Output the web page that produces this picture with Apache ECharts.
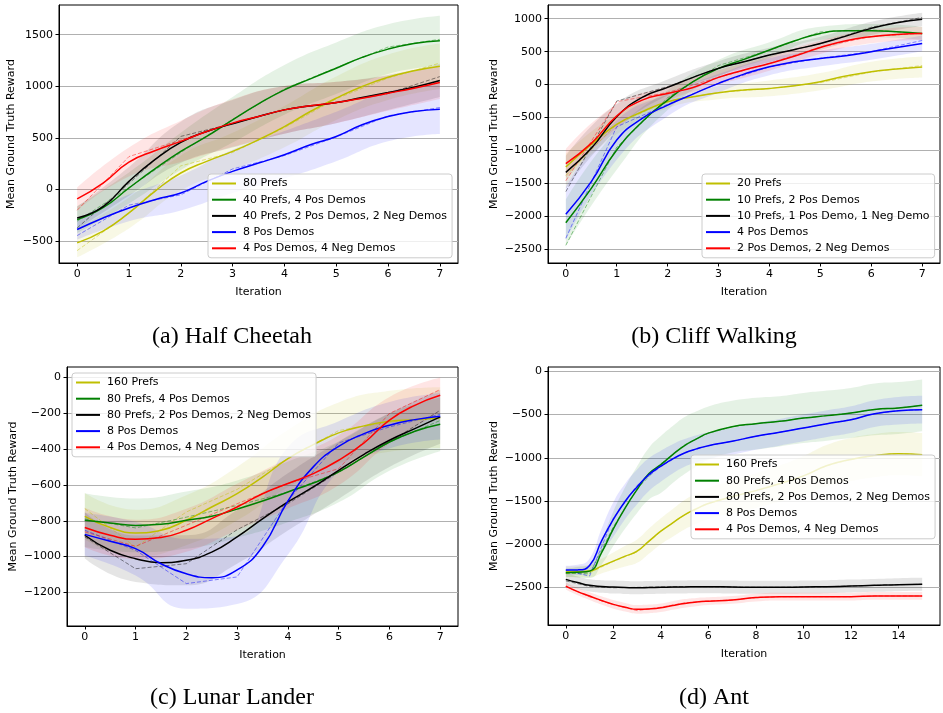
<!DOCTYPE html>
<html><head><meta charset="utf-8">
<script src="https://cdn.jsdelivr.net/npm/echarts/dist/echarts.min.js"></script>
<style>html,body{margin:0;padding:0;background:#fff}#c{width:943px;height:713px}</style>
</head><body><div id="c"></div>
<script>
// ---------------- DATA ----------------
const iterHalf7 = [0,0.5,1,1.5,2,2.5,3,3.5,4,4.5,5,5.5,6,6.5,7];
const iter7 = [0,1,2,3,4,5,6,7];
const iter15 = [0,1,2,3,4,5,6,7,8,9,10,11,12,13,14,15];
const antX = [0,0.5,1,1.5,2,2.5,3,3.5,4,4.5,5,5.5,6,7,8,9,10,11,12,13,14,15];

// rows: 0 prefs only (yellow), 1 prefs+pos (green), 2 prefs+pos+neg (black), 3 pos only (blue), 4 pos+neg (red)
// (a) Half Cheetah
const cheetahNames = ['80 Prefs','40 Prefs, 4 Pos Demos','40 Prefs, 2 Pos Demos, 2 Neg Demos','8 Pos Demos','4 Pos Demos, 4 Neg Demos'];
const cheetahSmooth = [
  [-515,-402,-225,-16,161,274,370,483,610,756,885,998,1088,1150,1194],
  [-290,-175,16,200,370,515,676,830,966,1072,1175,1280,1360,1415,1442],
  [-274,-165,80,290,457,563,637,708,772,811,843,892,940,991,1056],
  [-386,-274,-177,-97,-32,80,177,257,338,434,515,628,708,756,779],
  [-90,64,267,377,467,563,644,708,772,811,843,885,933,982,1037]
];
const cheetahRaw = [
  [-590,-230,230,360,600,880,1080,1225],
  [-305,20,360,680,975,1180,1380,1455],
  [-370,60,515,640,775,840,930,1094],
  [-445,-150,-50,200,330,510,715,795],
  [-200,320,480,640,775,840,935,1046]
];
const cheetahBand = [
  [140,150,170,180,200,210,220,220],
  [130,150,180,220,240,250,240,240],
  [110,140,200,230,230,200,170,160],
  [100,130,170,210,230,240,240,240],
  [110,140,200,230,230,200,170,160]
];
const cheetahYTicks = [-500,0,500,1000,1500];

// (b) Cliff Walking
const cliffNames = ['20 Prefs','10 Prefs, 2 Pos Demos','10 Prefs, 1 Pos Demo, 1 Neg Demo','4 Pos Demos','2 Pos Demos, 2 Neg Demos'];
const cliffSmooth = [
  [-1250,-910,-605,-413,-260,-185,-124,-83,-58,-17,44,130,196,236,266],
  [-2097,-1576,-994,-564,-235,44,246,383,524,666,777,818,818,803,777],
  [-1332,-968,-488,-195,-43,109,246,347,448,534,625,736,853,939,990],
  [-1967,-1474,-842,-513,-311,-144,19,159,271,347,397,438,498,564,625],
  [-1198,-893,-478,-235,-134,-43,109,220,321,433,564,666,727,762,777]
];
const cliffRaw = [
  [-1380,-600,-250,-120,-60,30,190,290],
  [-2440,-950,-200,290,520,800,830,770],
  [-1625,-250,-30,250,450,620,870,1020],
  [-2333,-640,-300,20,270,400,500,670],
  [-1460,-260,-120,110,320,570,730,780]
];
const cliffBand = [
  [200,150,100,100,120,130,150,160],
  [350,300,150,130,120,100,100,100],
  [250,200,120,110,110,100,100,100],
  [400,300,170,140,130,120,120,120],
  [220,180,110,110,110,100,100,100]
];
const cliffYTicks = [-2500,-2000,-1500,-1000,-500,0,500,1000];

// (c) Lunar Lander
const lunarNames = ['160 Prefs','80 Prefs, 4 Pos Demos','80 Prefs, 2 Pos Demos, 2 Neg Demos','8 Pos Demos','4 Pos Demos, 4 Neg Demos'];
const lunarSmooth = [
  [-775,-838,-868,-853,-797,-723,-649,-556,-453,-375,-309,-270,-244,-235,-224],
  [-797,-812,-826,-820,-797,-775,-735,-690,-639,-589,-527,-443,-360,-300,-261],
  [-881,-965,-1012,-1034,-1021,-975,-890,-790,-695,-611,-518,-429,-350,-285,-220],
  [-876,-915,-956,-1040,-1096,-1118,-1075,-945,-690,-499,-384,-313,-266,-235,-216],
  [-838,-881,-904,-894,-853,-788,-723,-649,-592,-537,-462,-365,-238,-155,-99]
];
const lunarRaw = [
  [-732,-947,-751,-625,-453,-296,-248,-229],
  [-790,-840,-780,-715,-640,-530,-360,-240],
  [-890,-1068,-1040,-850,-705,-527,-360,-183],
  [-853,-965,-1151,-1114,-686,-365,-276,-205],
  [-862,-943,-825,-705,-592,-509,-201,-67]
];
const lunarBand = [
  [130,130,140,150,160,170,170,170],
  [150,150,160,160,170,170,160,150],
  [130,130,140,150,160,160,150,150],
  [120,150,195,190,300,140,130,130],
  [110,110,120,130,140,140,130,100]
];
const lunarYTicks = [-1200,-1000,-800,-600,-400,-200,0];

// (d) Ant
const antNames = ['160 Prefs','80 Prefs, 4 Pos Demos','80 Prefs, 2 Pos Demos, 2 Neg Demos','8 Pos Demos','4 Pos Demos, 4 Neg Demos'];
const antSmooth = [
  [-2320,-2318,-2312,-2254,-2196,-2139,-2081,-1965,-1850,-1753,-1660,-1590,-1530,-1450,-1380,-1300,-1210,-1090,-1020,-975,-952,-965],
  [-2331,-2325,-2312,-2100,-1822,-1579,-1368,-1183,-1079,-963,-859,-782,-715,-640,-605,-578,-540,-512,-482,-440,-424,-393],
  [-2408,-2445,-2477,-2490,-2497,-2502,-2505,-2503,-2500,-2497,-2495,-2493,-2492,-2496,-2500,-2500,-2496,-2492,-2485,-2477,-2469,-2465],
  [-2300,-2298,-2246,-1965,-1714,-1503,-1337,-1194,-1098,-1013,-944,-897,-860,-809,-751,-705,-655,-605,-559,-489,-455,-443],
  [-2485,-2550,-2601,-2652,-2697,-2730,-2755,-2750,-2736,-2710,-2686,-2670,-2660,-2646,-2619,-2608,-2608,-2608,-2608,-2600,-2600,-2600]
];
const antRaw = [
  [-2340,-2330,-2200,-2090,-1850,-1660,-1530,-1450,-1380,-1300,-1210,-1090,-1020,-975,-950,-965],
  [-2335,-2345,-1800,-1360,-1070,-850,-715,-640,-605,-578,-540,-512,-482,-440,-424,-393],
  [-2425,-2490,-2505,-2500,-2495,-2490,-2492,-2496,-2500,-2500,-2496,-2492,-2485,-2477,-2469,-2465],
  [-2305,-2370,-1700,-1320,-1100,-940,-860,-809,-751,-705,-655,-605,-559,-489,-455,-443],
  [-2490,-2610,-2700,-2770,-2730,-2680,-2658,-2646,-2619,-2608,-2608,-2608,-2608,-2600,-2600,-2600]
];
const antBand = [
  [60,65,70,85,100,120,135,145,150,160,170,175,180,190,200,210,230,240,250,250,250,250],
  [50,60,80,140,200,240,270,300,330,330,330,320,310,300,300,290,290,290,290,300,300,300],
  [70,70,70,72,75,75,75,75,75,75,75,75,75,75,75,75,75,75,75,75,75,75],
  [50,60,80,140,200,205,200,190,180,170,160,158,155,155,155,155,155,155,155,155,160,160],
  [40,42,45,48,50,50,50,50,50,50,50,48,45,45,45,45,45,45,45,45,45,45]
];
const antYTicks = [-2500,-2000,-1500,-1000,-500,0];
const ticks7 = [0,1,2,3,4,5,6,7];
const ticks14 = [0,2,4,6,8,10,12,14];

const captions = ['(a) Half Cheetah','(b) Cliff Walking','(c) Lunar Lander','(d) Ant'];
const rowColors = ['#bfbf00','#008000','#000000','#0000ff','#ff0000'];

// ---------------- LAYOUT ----------------
const FONT = 'DejaVu Sans';
const panels = [
  {names: cheetahNames, sx: iterHalf7, rx: iter7, bx: iter7, smooth: cheetahSmooth, raw: cheetahRaw, band: cheetahBand,
   grid: {left: 59, top: 5, width: 399, height: 258}, xMin: -0.35, xMax: 7.35, xTicks: ticks7, xInt: 1,
   yMin: -710, yMax: 1787, yTicks: cheetahYTicks, yInt: 500, nameGap: 42, legend: {left: 208, top: 174}, cap: [232, 337]},
  {names: cliffNames, sx: iterHalf7, rx: iter7, bx: iter7, smooth: cliffSmooth, raw: cliffRaw, band: cliffBand,
   grid: {left: 548, top: 5, width: 392, height: 258}, xMin: -0.35, xMax: 7.35, xTicks: ticks7, xInt: 1,
   yMin: -2708, yMax: 1208, yTicks: cliffYTicks, yInt: 500, nameGap: 48, legend: {left: 702, top: 174}, cap: [714, 337]},
  {names: lunarNames, sx: iterHalf7, rx: iter7, bx: iter7, smooth: lunarSmooth, raw: lunarRaw, band: lunarBand,
   grid: {left: 67, top: 367, width: 391, height: 259}, xMin: -0.35, xMax: 7.35, xTicks: ticks7, xInt: 1,
   yMin: -1388, yMax: 59, yTicks: lunarYTicks, yInt: 200, nameGap: 48, legend: {left: 72, top: 373}, cap: [232, 698]},
  {names: antNames, sx: antX, rx: iter15, bx: antX, smooth: antSmooth, raw: antRaw, band: antBand,
   grid: {left: 548, top: 367, width: 392, height: 258}, xMin: -0.75, xMax: 15.75, xTicks: ticks14, xInt: 2,
   yMin: -2936, yMax: 51, yTicks: antYTicks, yInt: 500, nameGap: 48, legend: {left: 691, top: 455}, cap: [714, 698]}
];

const minus = v => String(v).replace('-', '\u2212');
const grids = [], xAxes = [], yAxes = [], series = [], legends = [], graphics = [];

panels.forEach((p, pi) => {
  grids.push(Object.assign({show: true, borderColor: '#000', borderWidth: 1, containLabel: false}, p.grid));
  xAxes.push({type: 'value', gridIndex: pi, min: p.xMin, max: p.xMax, minInterval: p.xInt, maxInterval: p.xInt,
    name: 'Iteration', nameLocation: 'middle', nameGap: 24,
    nameTextStyle: {fontFamily: FONT, fontSize: 11, color: '#000'},
    axisLine: {show: true, onZero: false, lineStyle: {color: '#000', width: 1}},
    axisTick: {show: true, length: 3.5, lineStyle: {color: '#000'}, customValues: p.xTicks},
    axisLabel: {fontFamily: FONT, fontSize: 11, color: '#000', margin: 6, customValues: p.xTicks, formatter: minus},
    splitLine: {show: false}});
  yAxes.push({type: 'value', gridIndex: pi, min: p.yMin, max: p.yMax, minInterval: p.yInt, maxInterval: p.yInt,
    name: 'Mean Ground Truth Reward', nameLocation: 'middle', nameGap: p.nameGap, nameRotate: 90,
    nameTextStyle: {fontFamily: FONT, fontSize: 11, color: '#000'},
    axisLine: {show: true, onZero: false, lineStyle: {color: '#000', width: 1}},
    axisTick: {show: true, length: 3.5, lineStyle: {color: '#000'}, customValues: p.yTicks},
    axisLabel: {fontFamily: FONT, fontSize: 11, color: '#000', margin: 6, customValues: p.yTicks, formatter: minus},
    splitLine: {show: true, lineStyle: {color: '#b0b0b0', width: 1}}});

  // shaded bands: stacked pair (lower edge + width); data given as [y, x] so the y column is stacked
  p.smooth.forEach((row, r) => {
    const col = rowColors[r];
    const center = p.bx.map(x => row[p.sx.indexOf(x)]);
    const half = p.band[r];
    const stackId = 'band' + pi + '_' + r;
    const common = {type: 'line', xAxisIndex: pi, yAxisIndex: pi, stack: stackId, stackStrategy: 'all', smooth: true,
      symbol: 'none', silent: true, z: 1, encode: {x: 1, y: 0}, lineStyle: {opacity: 0, width: 0}};
    series.push(Object.assign({}, common, {data: p.bx.map((x, i) => [center[i] - half[i], x])}));
    series.push(Object.assign({}, common, {areaStyle: {color: col, opacity: 0.1},
      data: p.bx.map((x, i) => [2 * half[i], x])}));
  });
  // raw dashed
  p.raw.forEach((row, r) => {
    const col = rowColors[r];
    series.push({type: 'line', xAxisIndex: pi, yAxisIndex: pi, symbol: 'none', silent: true, z: 2,
      lineStyle: {color: col, width: 1, type: [4, 2], opacity: 0.45},
      data: p.rx.map((x, i) => [x, row[i]])});
  });
  // smoothed solid lines, in legend order
  p.names.forEach((nm, r) => {
    const col = rowColors[r];
    series.push({name: nm, type: 'line', xAxisIndex: pi, yAxisIndex: pi, symbol: 'none', smooth: true, z: 3,
      color: col, lineStyle: {color: col, width: 1.5},
      data: p.sx.map((x, i) => [x, p.smooth[r][i]])});
  });

  legends.push({data: p.names, orient: 'vertical', left: p.legend.left, top: p.legend.top,
    icon: 'rect', itemWidth: 24, itemHeight: 2, itemGap: 2.2, selectedMode: false,
    backgroundColor: 'rgba(255,255,255,0.8)', borderColor: '#cccccc', borderWidth: 1, borderRadius: 3,
    padding: [2.5, 5, 2.5, 4],
    textStyle: {fontFamily: FONT, fontSize: 11, color: '#000', lineHeight: 14, padding: [0, 0, 0, 2]}});

  graphics.push({type: 'text', x: p.cap[0], y: p.cap[1], silent: true,
    style: {text: captions[pi], fill: '#000', font: '24px "Liberation Serif"', textAlign: 'center', textVerticalAlign: 'middle'}});
});

const chart = echarts.init(document.getElementById('c'), null, {renderer: 'canvas'});
chart.setOption({animation: false, backgroundColor: '#fff', grid: grids, xAxis: xAxes, yAxis: yAxes,
  series: series, legend: legends, graphic: graphics});
</script></body></html>
